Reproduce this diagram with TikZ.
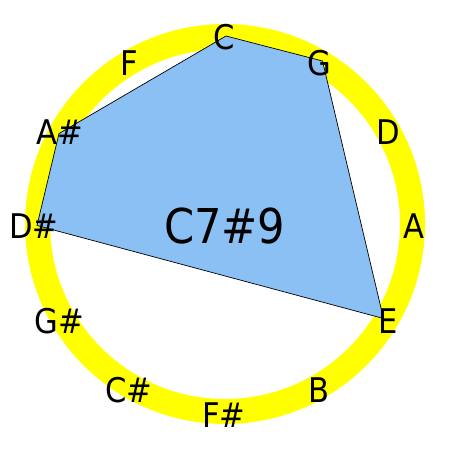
\documentclass[tikz,border=0pt]{standalone}
\usepackage{fontspec}
\setmainfont{DejaVu Sans Condensed}
\definecolor{ringyellow}{RGB}{255,255,0}
\definecolor{chordblue}{RGB}{138,192,243}
\begin{document}
\begin{tikzpicture}[x=1pt,y=-1pt,
  note/.style={inner sep=0pt, font=\fontsize{34}{34}\selectfont},
  title/.style={inner sep=0pt, font=\fontsize{48}{48}\selectfont},
  ring/.style={draw=ringyellow, line width=25pt},
  chord/.style={fill=chordblue, draw=black, line width=0.7pt, line join=miter}]
\useasboundingbox (0,0) rectangle (450,450);
\draw[ring] (225,224) circle[radius=187.5];
\coordinate (vC) at (226,36);
\coordinate (vG) at (322.5,61);
\coordinate (vE) at (383.5,318.5);
\coordinate (vDs) at (37,225.5);
\coordinate (vAs) at (59,133.5);
\draw[chord] (vC) -- (vG) -- (vE) -- (vDs) -- (vAs) -- cycle;
\foreach \n/\a/\t in {C/90/C, G/60/G, D/30/D, A/0/A, E/-30/E, B/-60/B, Fs/-90/F\#, Cs/-120/C\#, Gs/-150/G\#, Ds/180/D\#, As/150/A\#, F/120/F}{
  \node[note] (\n) at ({224+190*cos(\a)},{226.5-189*sin(\a)}) {\t};
}
\node[title] (name) at (224.7,226.3) {C7\#9};
\end{tikzpicture}
\end{document}
